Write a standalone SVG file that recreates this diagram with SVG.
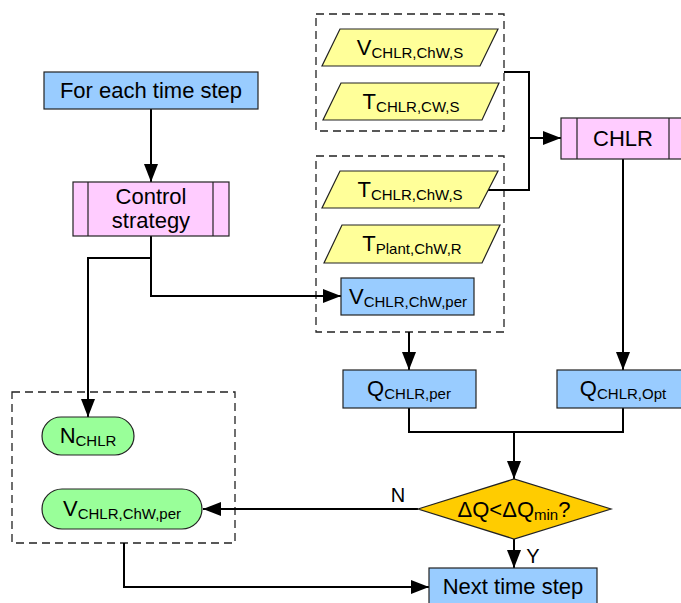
<svg xmlns="http://www.w3.org/2000/svg" width="681" height="603" viewBox="0 0 681 603">
  <style>
    text { font-family: "Liberation Sans", Arial, sans-serif; font-size: 22px; fill: #000; text-anchor: middle; }
    .sub { font-size: 15px; }
    .box { stroke: #222; stroke-width: 1.2; }
    .blue { fill: #99CCFF; }
    .pink { fill: #FFCCFF; }
    .yellow { fill: #FFFF99; }
    .green { fill: #99FF99; }
    .orange { fill: #FFCC00; }
    .group { fill: none; stroke: #222; stroke-width: 1.3; stroke-dasharray: 8 5; }
    .wire { fill: none; stroke: #000; stroke-width: 2; }
    .arrow { marker-end: url(#head); }
  </style>
  <defs>
    <marker id="head" markerUnits="userSpaceOnUse" markerWidth="19" markerHeight="15" refX="18" refY="7" orient="auto">
      <path d="M0,0 L18,7 L0,14 Z" fill="#000"/>
    </marker>
  </defs>

  <rect width="681" height="603" fill="#fff"/>

  <!-- dashed grouping frames -->
  <g id="frames">
    <rect class="group" x="316" y="14" width="188" height="117"/>
    <rect class="group" x="316" y="156" width="188" height="176"/>
    <rect class="group" x="12" y="392" width="223" height="151"/>
  </g>

  <!-- connectors -->
  <g id="connectors">
    <path class="wire arrow" d="M151,109 V182"/>
    <path class="wire arrow" d="M151,236 V296 H341"/>
    <path class="wire arrow" d="M151,258 H88 V417"/>
    <path class="wire" d="M504,72 H529 V190 H488"/>
    <path class="wire arrow" d="M529,138 H561"/>
    <path class="wire arrow" d="M409,332 V370"/>
    <path class="wire arrow" d="M623,159 V370"/>
    <path class="wire" d="M409,408 V432 H623 V408"/>
    <path class="wire arrow" d="M514,432 V479"/>
    <path class="wire arrow" d="M418,509 H203"/>
    <path class="wire arrow" d="M514,539 V568"/>
    <path class="wire arrow" d="M124,543 V587 H429"/>
    <text x="398" y="502" style="font-size:20px">N</text>
    <text x="533" y="563" style="font-size:20px">Y</text>
  </g>

  <g id="for-each-time-step">
    <rect class="box blue" x="44" y="72" width="214" height="37"/>
    <text x="151" y="98">For each time step</text>
  </g>

  <g id="control-strategy">
    <rect class="box pink" x="73" y="182" width="156" height="54"/>
    <line class="box" x1="88" y1="182" x2="88" y2="236"/>
    <line class="box" x1="213" y1="182" x2="213" y2="236"/>
    <text x="151" y="204">Control</text>
    <text x="151" y="228">strategy</text>
  </g>

  <g id="v-chlr-chw-s">
    <polygon class="box yellow" points="340,29 498,29 480,66 322,66"/>
    <text x="410" y="55">V<tspan class="sub" dy="3">CHLR,ChW,S</tspan></text>
  </g>

  <g id="t-chlr-cw-s">
    <polygon class="box yellow" points="341,83 499,83 482,120 323,120"/>
    <text x="411" y="109">T<tspan class="sub" dy="3">CHLR,CW,S</tspan></text>
  </g>

  <g id="t-chlr-chw-s">
    <polygon class="box yellow" points="340,171 498,171 479,208 322,208"/>
    <text x="410" y="197">T<tspan class="sub" dy="3">CHLR,ChW,S</tspan></text>
  </g>

  <g id="t-plant-chw-r">
    <polygon class="box yellow" points="342,225 500,225 482,263 324,263"/>
    <text x="412" y="251">T<tspan class="sub" dy="3">Plant,ChW,R</tspan></text>
  </g>

  <g id="v-chlr-chw-per">
    <rect class="box blue" x="341" y="278" width="133" height="37"/>
    <text x="408" y="304">V<tspan class="sub" dy="3">CHLR,ChW,per</tspan></text>
  </g>

  <g id="chlr">
    <rect class="box pink" x="561" y="118" width="121" height="41"/>
    <line class="box" x1="577" y1="118" x2="577" y2="159"/>
    <line class="box" x1="669" y1="118" x2="669" y2="159"/>
    <text x="623" y="146">CHLR</text>
  </g>

  <g id="q-chlr-per">
    <rect class="box blue" x="343" y="370" width="133" height="38"/>
    <text x="409" y="396">Q<tspan class="sub" dy="3">CHLR,per</tspan></text>
  </g>

  <g id="q-chlr-opt">
    <rect class="box blue" x="557" y="370" width="125" height="38"/>
    <text x="623" y="396">Q<tspan class="sub" dy="3">CHLR,Opt</tspan></text>
  </g>

  <g id="delta-q-check">
    <polygon class="box orange" points="418,509 514,479 611,509 514,539"/>
    <text x="514" y="517">ΔQ&lt;ΔQ<tspan class="sub" dy="3">min</tspan><tspan dy="-3">?</tspan></text>
  </g>

  <g id="n-chlr">
    <rect class="box green" x="42" y="417" width="92" height="38" rx="19"/>
    <text x="88" y="443">N<tspan class="sub" dy="3">CHLR</tspan></text>
  </g>

  <g id="v-chlr-chw-per-out">
    <rect class="box green" x="42" y="489" width="160" height="40" rx="20"/>
    <text x="122" y="516">V<tspan class="sub" dy="3">CHLR,ChW,per</tspan></text>
  </g>

  <g id="next-time-step">
    <rect class="box blue" x="429" y="568" width="168" height="40"/>
    <text x="513" y="594">Next time step</text>
  </g>
</svg>
